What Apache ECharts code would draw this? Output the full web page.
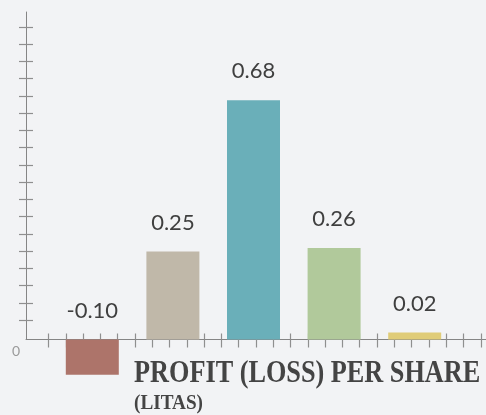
<!DOCTYPE html>
<html>
<head>
<meta charset="utf-8">
<script src="https://cdn.jsdelivr.net/npm/echarts@6/dist/echarts.min.js"></script>
<style>
  html, body { margin: 0; padding: 0; background: #f2f3f5; }
  #chart { width: 486px; height: 415px; }
</style>
</head>
<body>
<div id="chart"></div>
<script>
// data
var categories = ['A', 'B', 'C', 'D', 'E'];
var values = [-0.10, 0.25, 0.68, 0.26, 0.02];
var barColors = ['#ad746a', '#c0b8a9', '#6aafb9', '#b1c99b', '#e0cc78'];

// decorative ticks (pixel units on the frame axes)
var yTicks = [];
for (var i = 0; i < 18; i++) yTicks.push(19.5 + 17.25 * i);
var xTicks = [];
for (var j = 0; j < 26; j++) xTicks.push(22.5 + 17.29 * j);

var axisGray = '#858585';
var tickStyle = { color: '#8f8f8f', width: 1.2 };

// frame axis builder: line-only axis, or tick-only axis (inside/outside)
function frameAxis(max, ticks, inside, len, showLine) {
    return {
        type: 'value', gridIndex: 1, min: 0, max: max,
        axisLine: { show: showLine, lineStyle: { color: axisGray, width: 1 } },
        axisTick: ticks ? { show: true, inside: inside, length: len, customValues: ticks, lineStyle: tickStyle }
                        : { show: false },
        axisLabel: { show: false },
        splitLine: { show: false }
    };
}

var chart = echarts.init(document.getElementById('chart'));

var option = {
    backgroundColor: '#f2f3f5',
    animation: false,
    grid: [
        // bars
        { left: 52, width: 403, top: 22.7, height: 352 },
        // axis frame
        { left: 26, right: 0, top: 12, bottom: 75.5 }
    ],
    xAxis: [
        { type: 'category', gridIndex: 0, data: categories, show: false },
        frameAxis(460, null, false, 0, true),
        frameAxis(460, xTicks, true, 8, false),
        frameAxis(460, xTicks, false, 6, false)
    ],
    yAxis: [
        { type: 'value', gridIndex: 0, min: -0.1, max: 0.9, show: false },
        frameAxis(327.5, null, false, 0, true),
        frameAxis(327.5, yTicks, true, 7, false),
        frameAxis(327.5, yTicks, false, 7, false)
    ],
    series: [
        {
            type: 'bar',
            xAxisIndex: 0,
            yAxisIndex: 0,
            barWidth: 53,
            data: values.map(function (v, k) {
                return { value: v, itemStyle: { color: barColors[k] } };
            }),
            label: {
                show: true,
                position: 'top',
                distance: 18,
                color: '#3f3f3f',
                fontFamily: 'Lato',
                fontSize: 22,
                formatter: function (p) { return p.value.toFixed(2); }
            }
        }
    ],
    graphic: [
        {
            type: 'text', x: 16, y: 351,
            style: { text: '0', fill: '#9a9a9a', font: '14px Lato',
                     textAlign: 'center', textVerticalAlign: 'middle' }
        },
        {
            type: 'text', x: 134, y: 374, scaleX: 0.82,
            style: { text: 'PROFIT (LOSS) PER SHARE', fill: '#444444',
                     font: 'bold 32px "Liberation Serif"', textVerticalAlign: 'middle' }
        },
        {
            type: 'text', x: 134, y: 404, scaleX: 0.96,
            style: { text: '(LITAS)', fill: '#444444',
                     font: 'bold 20px "Liberation Serif"', textVerticalAlign: 'middle' }
        }
    ]
};

chart.setOption(option);
</script>
</body>
</html>
